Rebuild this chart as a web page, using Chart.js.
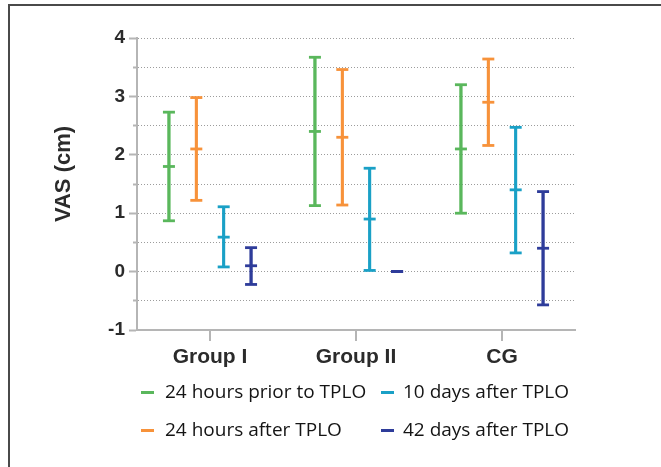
<!DOCTYPE html>
<html>
<head>
<meta charset="utf-8">
<script src="https://cdn.jsdelivr.net/npm/chart.js@4.4.1/dist/chart.umd.min.js"></script>
<style>
  html, body { margin: 0; padding: 0; background: #fff; overflow: hidden; }
  #wrap { position: relative; width: 661px; height: 467px; overflow: hidden; }
  #frame { position: absolute; left: 8px; top: 4px; width: 800px; height: 600px;
           border-top: 2px solid #4a4a4a; border-left: 2px solid #4a4a4a; }
  #c { position: absolute; left: 0; top: 0; }
  .lg { position: absolute; font-family: "Open Sans", sans-serif; font-size: 19px;
        line-height: 19px; color: #141414; white-space: nowrap; }
  .mk { position: absolute; height: 3px; width: 13px; }
</style>
</head>
<body>
<div id="wrap">
  <div id="frame"></div>
  <canvas id="c" width="661" height="467"></canvas>
  <div id="legend"></div>
</div>
<script>
// ---- data ----
const categories = ['Group I', 'Group II', 'CG'];
const seriesNames = ['24 hours prior to TPLO', '24 hours after TPLO', '10 days after TPLO', '42 days after TPLO'];
const prior24Mean = [1.80, 2.40, 2.10];
const prior24Low  = [0.87, 1.13, 1.00];
const prior24High = [2.73, 3.67, 3.20];
const after24Mean = [2.10, 2.30, 2.90];
const after24Low  = [1.22, 1.14, 2.16];
const after24High = [2.98, 3.46, 3.64];
const day10Mean = [0.59, 0.90, 1.40];
const day10Low  = [0.08, 0.02, 0.32];
const day10High = [1.11, 1.77, 2.47];
const day42Mean = [0.10, 0.00, 0.40];
const day42Low  = [-0.22, 0.00, -0.57];
const day42High = [0.41, 0.00, 1.37];
const yTickValues = [-1, 0, 1, 2, 3, 4];

// ---- styles ----
const colors = ['#5ab75c', '#f7923a', '#1aa0c6', '#2e3c9a'];
const means = [prior24Mean, after24Mean, day10Mean, day42Mean];
const lows = [prior24Low, after24Low, day10Low, day42Low];
const highs = [prior24High, after24High, day10High, day42High];

const datasets = seriesNames.map((name, i) => ({
  label: name,
  data: categories.map((_, j) => [lows[i][j], highs[i][j]]),
  meanVals: means[i],
  lowVals: lows[i],
  highVals: highs[i],
  backgroundColor: colors[i],
  borderColor: colors[i],
  borderWidth: 0,
  categoryPercentage: 0.75,
  barPercentage: 0.105
}));

const errorBarPlugin = {
  id: 'errorBars',
  afterDatasetsDraw(chart) {
    const ctx = chart.ctx;
    const y = chart.scales.y;
    chart.data.datasets.forEach((ds, i) => {
      const meta = chart.getDatasetMeta(i);
      meta.data.forEach((bar, j) => {
        const x = bar.x;
        ctx.save();
        ctx.strokeStyle = ds.borderColor;
        ctx.lineWidth = 2.8;
        ctx.beginPath();
        ctx.moveTo(x, y.getPixelForValue(ds.lowVals[j]));
        ctx.lineTo(x, y.getPixelForValue(ds.highVals[j]));
        ctx.stroke();
        [ds.lowVals[j], ds.highVals[j], ds.meanVals[j]].forEach(v => {
          const py = y.getPixelForValue(v);
          ctx.beginPath();
          ctx.moveTo(x - 6, py);
          ctx.lineTo(x + 6, py);
          ctx.stroke();
        });
        ctx.restore();
      });
    });
  }
};

const yTitlePlugin = {
  id: 'yTitle',
  afterDraw(chart) {
    const ctx = chart.ctx;
    ctx.save();
    ctx.translate(64, 174);
    ctx.rotate(-Math.PI / 2);
    ctx.font = 'bold 22px "Liberation Sans", Arial, sans-serif';
    ctx.fillStyle = '#2b2b2b';
    ctx.textAlign = 'center';
    ctx.textBaseline = 'middle';
    ctx.fillText('VAS (cm)', 0, 0);
    ctx.restore();
  }
};

const isMinor = (ctx) => ctx.tick && Math.abs(ctx.tick.value - Math.round(ctx.tick.value)) > 1e-6;

new Chart(document.getElementById('c'), {
  type: 'bar',
  data: { labels: categories, datasets },
  plugins: [errorBarPlugin, yTitlePlugin],
  options: {
    responsive: false,
    animation: false,
    layout: { padding: { left: 0, right: 86, top: 38, bottom: 0 } },
    plugins: { legend: { display: false }, tooltip: { enabled: false } },
    scales: {
      x: {
        offset: true,
        grid: { display: true, drawOnChartArea: false, offset: false, tickLength: 11, color: '#b5b5b5', lineWidth: 2 },
        border: { color: '#b5b5b5', width: 2 },
        ticks: { color: '#2b2b2b', padding: 4, font: { family: '"Liberation Sans", Arial, sans-serif', size: 21, weight: 'bold' } },
        afterFit(s) { s.height = 137; }
      },
      y: {
        min: -1, max: 4,
        afterBuildTicks(s) {
          const t = [];
          for (let k = 0; k <= (yTickValues.length - 1) * 2; k++) t.push({ value: yTickValues[0] + k * 0.5 });
          s.ticks = t;
        },
        grid: {
          color: (ctx) => (ctx.tick && ctx.tick.value === -1) ? 'rgba(0,0,0,0)' : '#9c9c9c',
          lineWidth: 1,
          tickLength: 8,
          tickColor: '#b5b5b5',
          tickWidth: 2,
          tickBorderDash: (ctx) => isMinor(ctx) ? [4, 4] : [],
          tickBorderDashOffset: (ctx) => isMinor(ctx) ? 4 : 0
        },
        border: { color: '#b5b5b5', width: 2, dash: [1, 2] },
        ticks: {
          color: '#2b2b2b', padding: 4,
          font: { family: '"Liberation Sans", Arial, sans-serif', size: 19, weight: 'bold' },
          callback: (v) => yTickValues.includes(v) ? String(v) : ''
        },
        afterFit(s) { s.width = 137; }
      }
    }
  }
});

// ---- HTML legend (column-major, 2 rows) ----
const legendLayout = [
  { mx: 141, tx: 165, row: 0 },
  { mx: 141, tx: 165, row: 1 },
  { mx: 381, tx: 403, row: 0 },
  { mx: 381, tx: 403, row: 1 }
];
const rowTops = [382, 420];
const rowMid = [392, 430];
const lg = document.getElementById('legend');
seriesNames.forEach((name, i) => {
  const L = legendLayout[i];
  const m = document.createElement('div');
  m.className = 'mk';
  m.style.left = L.mx + 'px';
  m.style.top = (rowMid[L.row] - 1.5) + 'px';
  m.style.background = colors[i];
  lg.appendChild(m);
  const t = document.createElement('div');
  t.className = 'lg';
  t.style.left = L.tx + 'px';
  t.style.top = rowTops[L.row] + 'px';
  t.textContent = name;
  lg.appendChild(t);
});
</script>
</body>
</html>
